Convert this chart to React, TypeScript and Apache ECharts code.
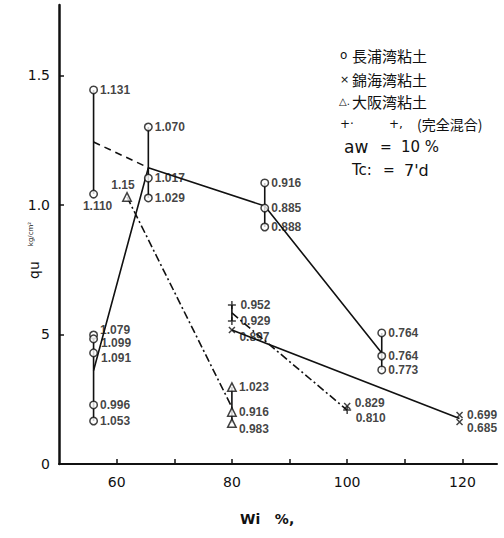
import React, { useEffect, useRef } from "react";
import * as echarts from "echarts";

// ---- Data ----
// 長浦湾粘土 (open circles)
const wiN = [56, 56, 56, 56, 56, 56, 56, 65.5, 65.5, 65.5, 85.7, 85.7, 85.7, 106, 106, 106];
const quN = [1.444, 1.042, 0.498, 0.483, 0.429, 0.228, 0.166, 1.301, 1.104, 1.027, 1.085, 0.988, 0.915, 0.506, 0.417, 0.363];
const tagN = ["1.131", "1.110", "1.079", "1.099", "1.091", "0.996", "1.053", "1.070", "1.017", "1.029", "0.916", "0.885", "0.888", "0.764", "0.764", "0.773"];
const grpN = [0, 0, 1, 1, 1, 1, 1, 2, 2, 2, 3, 3, 3, 4, 4, 4];

// 大阪湾粘土 (triangles)
const wiO = [61.8, 80, 80, 80];
const quO = [1.031, 0.297, 0.201, 0.158];
const tagO = ["1.15", "1.023", "0.916", "0.983"];
const grpO = [0, 1, 1, 1];

// 錦海湾粘土 (crosses)
const wiK = [80, 100, 119.5, 119.5];
const quK = [0.517, 0.224, 0.189, 0.162];
const tagK = ["0.897", "0.829", "0.699", "0.685"];
const grpK = [0, 1, 2, 2];

// 完全混合 (plus)
const wiM = [80, 80, 100];
const quM = [0.614, 0.552, 0.208];
const tagM = ["0.952", "0.929", "0.810"];
const grpM = [0, 0, 1];

const xLabelTicks = [60, 80, 100, 120];
const xMinorTicks = [60, 70, 80, 90, 100, 110, 120];
const yTicks = [0, 0.5, 1.0, 1.5];
const yTickText = ["0", "5", "1.0", "1.5"];

// ---- helpers ----
function groupMean(wi: number[], qu: number[], grp: number[], g: number): [number, number] {
  let s = 0, n = 0, x = 0;
  grp.forEach((gg, i) => { if (gg === g) { s += qu[i]; n++; x = wi[i]; } });
  return [x, s / n];
}
function groupRange(wi: number[], qu: number[], grp: number[], g: number): [number, number][] {
  const vals = qu.filter((_, i) => grp[i] === g);
  const x = wi[grp.indexOf(g)];
  return [[x, Math.max(...vals)], [x, Math.min(...vals)]];
}

const INK = "#111";
const LABEL_FONT = "Liberation Sans";
const AXIS_FONT = "DejaVu Sans";

function points(wi: number[], qu: number[], tag: string[], layout: Record<number, any>) {
  return wi.map((x, i) => ({
    value: [x, qu[i]],
    label: { formatter: tag[i], ...(layout[i] || {}) },
  }));
}

const layoutN: Record<number, any> = {
  1: { position: "bottom", offset: [4, -1] },
  2: { offset: [0, -5] },
  3: { offset: [1, 4] },
  4: { offset: [1, 5] },
};
const layoutO: Record<number, any> = {
  0: { position: "top", offset: [-4, 1] },
  3: { offset: [0, 6] },
};
const layoutK: Record<number, any> = {
  0: { offset: [0, 7] },
  1: { offset: [0, -3] },
  3: { offset: [0, 6] },
};
const layoutM: Record<number, any> = {
  2: { offset: [0, 8] },
};

function scatter(name: string, symbol: string, size: number, data: any[], fill: string) {
  return {
    type: "scatter",
    name,
    symbol,
    symbolSize: size,
    z: 5,
    itemStyle: { color: fill, borderColor: INK, borderWidth: 1.5 },
    label: {
      show: true,
      position: "right",
      distance: 2,
      fontFamily: LABEL_FONT,
      fontWeight: "bold",
      fontSize: 12,
      color: INK,
    },
    data,
  };
}
function line(data: [number, number][], type: any) {
  return {
    type: "line",
    symbol: "none",
    z: 3,
    silent: true,
    lineStyle: { color: INK, width: 1.6, type },
    data,
  };
}

const X_SYMBOL = "path://M0,0L10,10M10,0L0,10";
const PLUS_SYMBOL = "path://M5,0L5,10M0,5L10,5";
const DASH_DOT = [8, 3, 2, 3];

export default function App() {
  const ref = useRef<HTMLDivElement>(null);
  useEffect(() => {
    const chart = echarts.init(ref.current!, null, { renderer: "svg" });
    const series: any[] = [];
    // vertical range bars
    [0, 1, 2, 3, 4].forEach((g) => series.push(line(groupRange(wiN, quN, grpN, g), "solid")));
    series.push(line(groupRange(wiO, quO, grpO, 1), "solid"));
    series.push(line(groupRange(wiM, quM, grpM, 0), "solid"));
    // trend lines through group means
    series.push(line([groupMean(wiN, quN, grpN, 0), groupMean(wiN, quN, grpN, 2)], [7, 5]));
    series.push(line([1, 2, 3, 4].map((g) => groupMean(wiN, quN, grpN, g)), "solid"));
    series.push(line([groupMean(wiO, quO, grpO, 0), groupMean(wiO, quO, grpO, 1)], DASH_DOT));
    series.push(line([groupMean(wiK, quK, grpK, 0), groupMean(wiK, quK, grpK, 2)], "solid"));
    series.push(line([groupMean(wiM, quM, grpM, 0), groupMean(wiM, quM, grpM, 1)], DASH_DOT));
    // points
    series.push(scatter("長浦湾粘土", "circle", 7.5, points(wiN, quN, tagN, layoutN), "#fff"));
    series.push(scatter("大阪湾粘土", "triangle", 8.5, points(wiO, quO, tagO, layoutO), "#fff"));
    series.push(scatter("錦海湾粘土", X_SYMBOL, 6, points(wiK, quK, tagK, layoutK), "none"));
    series.push(scatter("完全混合", PLUS_SYMBOL, 8, points(wiM, quM, tagM, layoutM), "none"));

    const legendFont = "Noto Sans CJK JP";
    const txt = (x: number, y: number, text: string, size: number, font = AXIS_FONT, weight = "normal") => ({
      type: "text",
      x,
      y,
      silent: true,
      style: { text, fontSize: size, fontFamily: font, fontWeight: weight, fill: INK, verticalAlign: "middle" },
    });

    const option: any = {
      animation: false,
      backgroundColor: "#fff",
      grid: { left: 59, right: 7, top: 5, bottom: 74 },
      xAxis: {
        type: "value",
        min: 50,
        max: 126,
        interval: 10,
        splitLine: { show: false },
        axisLine: { show: true, lineStyle: { color: INK, width: 2 } },
        axisTick: { show: true, inside: true, length: 5, customValues: xMinorTicks, lineStyle: { color: INK, width: 1.5 } },
        axisLabel: {
          customValues: xLabelTicks,
          margin: 11,
          fontFamily: AXIS_FONT,
          fontSize: 14,
          color: INK,
        },
      },
      yAxis: {
        type: "value",
        min: 0,
        max: 1.772,
        interval: 0.5,
        splitLine: { show: false },
        axisLine: { show: true, lineStyle: { color: INK, width: 2.5 } },
        axisTick: { show: true, inside: true, length: 5, customValues: [0.5, 1.0, 1.5], lineStyle: { color: INK, width: 1.5 } },
        axisLabel: {
          customValues: yTicks,
          margin: 9,
          fontFamily: AXIS_FONT,
          fontSize: 14,
          color: INK,
          formatter: (v: number) => {
            const i = yTicks.findIndex((t) => Math.abs(t - v) < 1e-6);
            return i >= 0 ? yTickText[i] : "";
          },
        },
      },
      graphic: [
        // legend
        txt(340, 55, "o", 12),
        txt(352, 55, "長浦湾粘土", 15, legendFont),
        txt(340, 79, "×", 11),
        txt(352, 79, "錦海湾粘土", 15, legendFont),
        txt(339, 101, "△.", 10),
        txt(352, 101, "大阪湾粘土", 15, legendFont),
        txt(340, 124, "+·", 12),
        txt(389, 124, "+,", 12),
        txt(417, 124, "(完全混合)", 14, legendFont),
        txt(344, 147, "aw", 17),
        txt(380, 147, "=", 14),
        txt(401, 147, "10 %", 15),
        txt(352, 170, "Tc:", 15),
        txt(383, 170, "=", 14),
        txt(404, 170, "7'd", 16),
        // axis titles
        txt(240, 519, "Wi   %,", 14, AXIS_FONT, "bold"),
        {
          type: "text",
          x: 34,
          y: 270,
          rotation: Math.PI / 2,
          silent: true,
          style: { text: "qu", fontSize: 14, fontFamily: AXIS_FONT, fill: INK, align: "center", verticalAlign: "middle" },
        },
        {
          type: "text",
          x: 31,
          y: 234,
          rotation: Math.PI / 2,
          silent: true,
          style: { text: "kg/cm²", fontSize: 7, fontFamily: AXIS_FONT, fill: INK, align: "center", verticalAlign: "middle" },
        },
      ],
      series,
    };
    chart.setOption(option);
    return () => chart.dispose();
  }, []);
  return <div ref={ref} style={{ position: "absolute", left: 0, top: 0, width: 504, height: 538 }} />;
}
